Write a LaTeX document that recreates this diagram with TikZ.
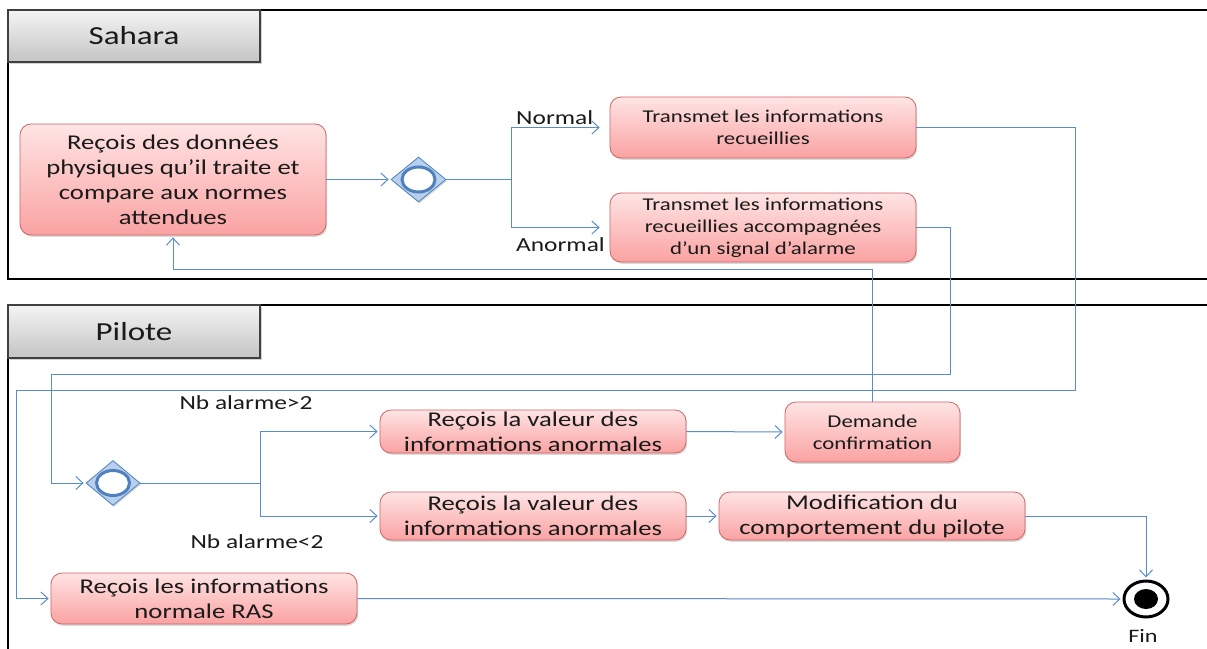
\documentclass[tikz,border=0pt]{standalone}
\usepackage{fontspec}
\setmainfont{Carlito}[FakeStretch=1.27]
\usetikzlibrary{arrows.meta,shapes.geometric,shadows}
\definecolor{conn}{HTML}{5B8BC9}
\definecolor{boxtop}{HTML}{FFE4E4}
\definecolor{boxbot}{HTML}{FAA2A2}
\definecolor{boxline}{HTML}{CF6464}
\definecolor{hdtop}{HTML}{F4F4F4}
\definecolor{hdbot}{HTML}{C4C4C4}
\definecolor{dfill}{HTML}{B9CFEE}
\definecolor{dline}{HTML}{4F81BD}
\definecolor{txt}{HTML}{1A1A1A}
\tikzset{
  lane/.style={line width=2.6pt, black},
  header/.style={draw=black!75, line width=1.2pt, top color=hdtop, bottom color=hdbot,
     inner sep=0pt, text=txt, font=\fontsize{26}{30}\selectfont,
     drop shadow={shadow xshift=1.5pt, shadow yshift=-1.5pt, opacity=0.35}},
  actbox/.style={draw=boxline, line width=0.8pt, rounded corners=11pt, top color=boxtop,
     bottom color=boxbot, align=center, inner sep=0pt, text=txt,
     drop shadow={shadow xshift=1.2pt, shadow yshift=-1.8pt, opacity=0.3}},
  fbig/.style={font=\fontsize{21}{25}\selectfont},
  fsmall/.style={font=\fontsize{18}{22}\selectfont},
  decision/.style={diamond, draw=dline, line width=0.8pt, fill=dfill, inner sep=0pt,
     drop shadow={shadow xshift=1pt, shadow yshift=-1.5pt, opacity=0.3}},
  decring/.style={ellipse, draw=dline, line width=3pt, fill=white, inner sep=0pt},
  flow/.style={draw=conn, line width=1pt},
  arr/.style={flow, -{Straight Barb[length=7pt,width=13pt,line width=1pt]}, shorten >=2pt},
  lbl/.style={text=txt, inner sep=0pt, font=\fontsize{20}{24}\selectfont},
}
\begin{document}
\begin{tikzpicture}[x=1pt,y=-1pt]
\useasboundingbox (0,0) rectangle (1207,648);
% lanes
\draw[lane] (1210,10) -- (8,10) -- (8,279) -- (1210,279);
\draw[lane] (1210,305) -- (8,305) -- (8,652);
\node[header, minimum width=252pt, minimum height=52pt] (hs) at (134,36) {Sahara};
\node[header, minimum width=252pt, minimum height=53pt] (hp) at (134,331.5) {Pilote};

% Sahara nodes
\node[actbox, fbig, minimum width=306pt, minimum height=111pt] (n1) at (173,179.5)
  {Reçois des données\\physiques qu’il traite et\\compare aux normes\\attendues};
\node[decision, minimum width=55pt, minimum height=45pt] (d1) at (418.5,179.5) {};
\node[decring, minimum width=33pt, minimum height=25pt] (r1) at (d1.center) {};
\node[actbox, fsmall, minimum width=306pt, minimum height=61pt] (t1) at (763,127.5)
  {Transmet les informations\\recueillies};
\node[actbox, fsmall, minimum width=306pt, minimum height=69pt] (t2) at (763,227.5)
  {Transmet les informations\\recueillies accompagnées\\d’un signal d’alarme};
\node[lbl, anchor=south west] (lnorm) at (516,125) {Normal};
\node[lbl, anchor=north west] (lanorm) at (516,237) {Anormal};

% Pilote nodes
\node[decision, minimum width=54pt, minimum height=45pt] (d2) at (113,483) {};
\node[decring, minimum width=33pt, minimum height=25pt] (r2) at (d2.center) {};
\node[actbox, fbig, minimum width=306pt, minimum height=43pt] (v1) at (533,431.5)
  {Reçois la valeur des\\informations anormales};
\node[actbox, fbig, minimum width=306pt, minimum height=48pt] (v2) at (533,516)
  {Reçois la valeur des\\informations anormales};
\node[actbox, fsmall, minimum width=175pt, minimum height=60pt] (dem) at (872.5,432)
  {Demande\\confirmation};
\node[actbox, fbig, minimum width=306pt, minimum height=48pt] (mod) at (872,516)
  {Modification du\\comportement du pilote};
\node[actbox, fbig, minimum width=306pt, minimum height=51pt] (ras) at (204,598.5)
  {Reçois les informations\\normale RAS};
\node[ellipse, draw=black, line width=3pt, fill=white, minimum width=44pt, minimum height=36pt, inner sep=0pt] (fin) at (1146,599) {};
\node[ellipse, fill=black, minimum width=24pt, minimum height=20pt, inner sep=0pt] (fdot) at (fin.center) {};
\node[lbl, font=\fontsize{19}{23}\selectfont] (lfin) at (1143,636) {Fin};
\node[lbl] (lgt) at (246,403) {Nb alarme>2};
\node[lbl] (llt) at (257,542) {Nb alarme<2};

% coordinates
\coordinate (b1) at (511,179.5);
\coordinate (b2) at (260,483);
\coordinate (c1) at (1075,390);
\coordinate (c2) at (16,390);
\coordinate (c3) at (950,374);
\coordinate (c4) at (51,374);
\coordinate (c5) at (872.5,269);

% connectors
\draw[arr] (n1.east) -- (d1.west);
\draw[flow] (d1.east) -- (b1);
\draw[arr, shorten >=10pt] (b1) |- (t1.west);
\draw[arr, shorten >=10pt] (b1) |- (t2.west);
\draw[arr] (t1.east) -| (c1) -- (c2) |- (ras.west);
\draw[arr] (t2.east) -| (c3) -- (c4) |- (d2.west);
\draw[arr] (dem.north) -- (c5) -| (n1.south);
\draw[flow] (d2.east) -- (b2);
\draw[arr] (b2) |- (v1.west);
\draw[arr] (b2) |- (v2.west);
\draw[arr] (v1.east) -- (dem.west);
\draw[arr] (v2.east) -- (mod.west);
\draw[arr] (mod.east) -| (fin.north);
\draw[arr] (ras.east) -- (fin.west);
\end{tikzpicture}
\end{document}
